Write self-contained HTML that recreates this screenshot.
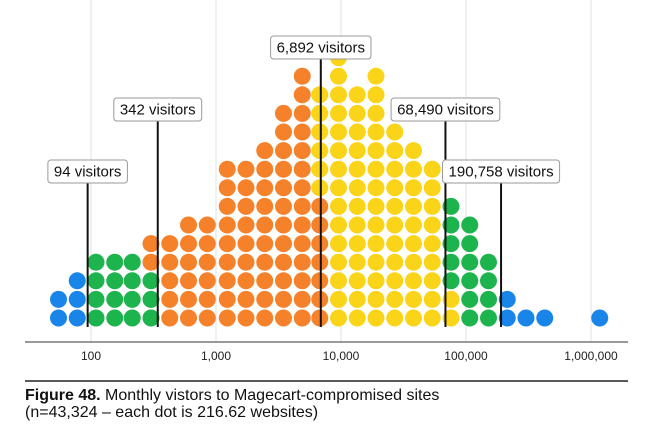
<!DOCTYPE html>
<html><head><meta charset="utf-8">
<style>
body{margin:0;background:#fff;font-family:"Liberation Sans",sans-serif;}
svg{display:block}
</style></head>
<body>
<svg id="chart" width="658" height="443" xmlns="http://www.w3.org/2000/svg"></svg>
<script>
const binLog=[1.74,1.89,2.04,2.19,2.33,2.48,2.63,2.78,2.93,3.09,3.24,3.39,3.54,3.69,3.83,3.98,4.13,4.28,4.43,4.58,4.73,4.88,5.03,5.18,5.33,5.48,5.63,6.07];
const blueLow  =[2,3,0,0,0,0,0,0,0,0,0,0,0,0,0,0,0,0,0,0,0,0,0,0,0,0,0,0];
const greenLow =[0,0,4,4,4,3,0,0,0,0,0,0,0,0,0,0,0,0,0,0,0,0,0,0,0,0,0,0];
const orange   =[0,0,0,0,0,2,5,6,6,9,9,10,12,14,7,0,0,0,0,0,0,0,0,0,0,0,0,0];
const yellow   =[0,0,0,0,0,0,0,0,0,0,0,0,0,0,6,15,13,14,11,10,9,2,0,0,0,0,0,0];
const greenHigh=[0,0,0,0,0,0,0,0,0,0,0,0,0,0,0,0,0,0,0,0,0,5,6,4,0,0,0,0];
const blueHigh =[0,0,0,0,0,0,0,0,0,0,0,0,0,0,0,0,0,0,0,0,0,0,0,0,2,1,1,1];
const tickVals=[100,1000,10000,100000,1000000];
const tickLabels=["100","1,000","10,000","100,000","1,000,000"];
const markerVals=[94,342,6892,68490,190758];
const markerLabels=["94 visitors","342 visitors","6,892 visitors","68,490 visitors","190,758 visitors"];
const markerBoxY=[160,98,36,98,160];

const NS="http://www.w3.org/2000/svg";
const svg=document.getElementById('chart');
function xs(log){return 91+125*(log-2);}
function ys(row){return 318-row*18.6;}
function mk(tag,attrs,parent){const e=document.createElementNS(NS,tag);for(const k in attrs)e.setAttribute(k,attrs[k]);(parent||svg).appendChild(e);return e;}

tickVals.forEach((v,i)=>{
  const x=xs(Math.log10(v));
  const g=mk('line',{x1:x,x2:x,y1:0,y2:342,stroke:'#e2e2e2','stroke-width':1});
  
  
  const t=mk('text',{x:x,y:360,'text-anchor':'middle','font-size':12,fill:'#222'});
  t.textContent=tickLabels[i];
  
  
});
const ax=mk('line',{x1:25,x2:628,y1:342,y2:342,stroke:'#333','stroke-width':1});



const series=[[blueLow,'#1a85e8'],[greenLow,'#1db34d'],[orange,'#f5812a'],[yellow,'#fad418'],[greenHigh,'#1db34d'],[blueHigh,'#1a85e8']];
binLog.forEach((lg,i)=>{
  let row=0;
  series.forEach(([arr,col])=>{
    for(let k=0;k<arr[i];k++){
      const c=mk('circle',{cx:xs(lg),cy:ys(row),r:8.5,fill:col});
      
      
      row++;
    }
  });
});

markerVals.forEach((v,i)=>{
  const x=xs(Math.log10(v));
  const by=markerBoxY[i];
  const l=mk('line',{x1:x,x2:x,y1:by+23,y2:327,stroke:'#111','stroke-width':2});
  
  
  const r=mk('rect',{x:x-40,y:by,width:80,height:23,rx:3,fill:'#fff',stroke:'#999','stroke-width':1});
  
  
  const t=mk('text',{x:x,y:by+16.5,'text-anchor':'middle','font-size':15,fill:'#111'});
  t.textContent=markerLabels[i];
  
  
  const w=t.getComputedTextLength()+12;
  r.setAttribute('x',x-w/2);
  r.setAttribute('width',w);
});

const cl=mk('line',{x1:25,x2:628,y1:381,y2:381,stroke:'#222','stroke-width':1.5});


const c1=mk('text',{x:25,y:400,'font-size':16,fill:'#111'});


c1.innerHTML='<tspan font-weight="bold">Figure 48.</tspan> Monthly vistors to Magecart-compromised sites';
const c2=mk('text',{x:25,y:417,'font-size':16,fill:'#111'});
c2.textContent='(n=43,324 – each dot is 216.62 websites)';


</script>
</body></html>
